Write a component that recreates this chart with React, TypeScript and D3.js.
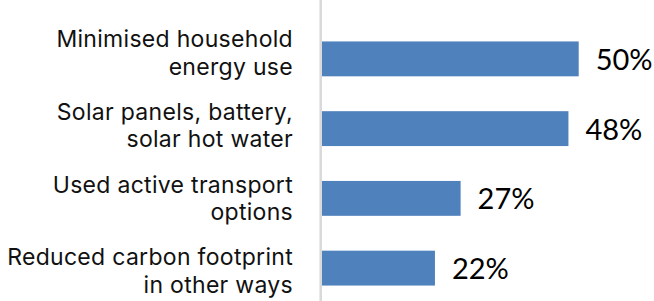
import React, { useEffect, useRef } from 'react';
import * as d3 from 'd3';

const categories = [
  'Minimised household energy use',
  'Solar panels, battery, solar hot water',
  'Used active transport options',
  'Reduced carbon footprint in other ways',
];
const labelLines = [
  ['Minimised household', 'energy use'],
  ['Solar panels, battery,', 'solar hot water'],
  ['Used active transport', 'options'],
  ['Reduced carbon footprint', 'in other ways'],
];
const values = [50, 48, 27, 22];

const App = () => {
  const svgRef = useRef<SVGSVGElement>(null);

  useEffect(() => {
    const svg = d3.select(svgRef.current);
    svg.selectAll('*').remove();

    const width = 654;
    const height = 301;
    const x0 = 322;

    const x = d3.scaleLinear().domain([0, 50]).range([x0, 578.7]);
    const y = d3.scaleBand<string>()
      .domain(categories)
      .range([24, 303])
      .paddingInner(0.5)
      .paddingOuter(0.25);
    // category labels sit on a slightly wider spacing than the bars
    const yLabel = d3.scalePoint<string>().domain(categories).range([61, 279]);

    svg.attr('width', width).attr('height', height);

    svg.append('line')
      .attr('x1', 320.7).attr('x2', 320.7)
      .attr('y1', 0).attr('y2', height)
      .attr('stroke', '#d9d9d9')
      .attr('stroke-width', 2.5);

    const data = categories.map((c, i) => ({ c, v: values[i], lines: labelLines[i] }));

    svg.selectAll('.bar')
      .data(data)
      .enter().append('rect')
      .attr('class', 'bar')
      .attr('x', x0)
      .attr('y', d => y(d.c)!)
      .attr('width', d => x(d.v) - x0)
      .attr('height', y.bandwidth())
      .attr('fill', '#4f81bd');

    svg.selectAll('.val')
      .data(data)
      .enter().append('text')
      .attr('class', 'val')
      .attr('x', d => x(d.v) + 17)
      .attr('y', d => y(d.c)! + y.bandwidth() / 2 + 11)
      .style('font-family', 'Lato, sans-serif')
      .style('font-size', '29px')
      .style('fill', '#000')
      .text(d => `${d.v}%`);

    const cat = svg.selectAll('.cat')
      .data(data)
      .enter().append('text')
      .attr('class', 'cat')
      .attr('text-anchor', 'end')
      .style('font-family', 'Inter, sans-serif')
      .style('font-size', '23px')
      .style('letter-spacing', '0.3px')
      .style('fill', '#111');

    cat.append('tspan')
      .attr('x', 293)
      .attr('y', d => yLabel(d.c)! - 13.6)
      .text(d => d.lines[0]);
    cat.append('tspan')
      .attr('x', 293)
      .attr('y', d => yLabel(d.c)! + 13.6)
      .text(d => d.lines[1]);
  }, []);

  return (
    <svg ref={svgRef} style={{ position: 'absolute', left: 0, top: 0 }}></svg>
  );
};

export default App;
